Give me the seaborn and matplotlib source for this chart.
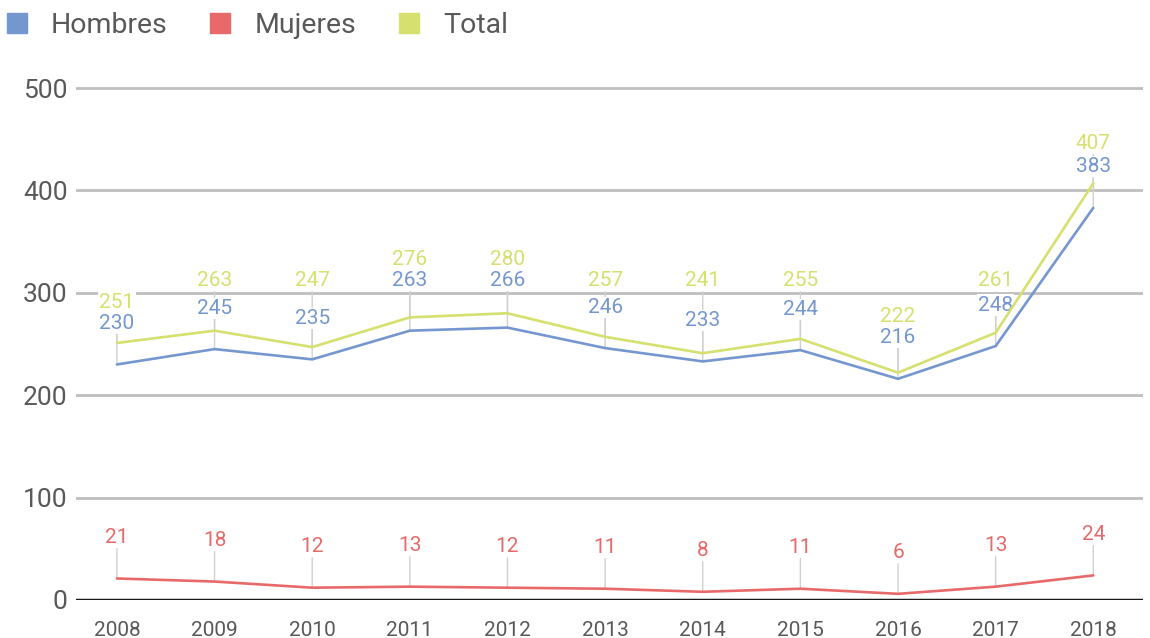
import matplotlib
matplotlib.use("Agg")
import matplotlib.pyplot as plt
import seaborn as sns
import pandas as pd
from matplotlib.lines import Line2D

years = ["2008", "2009", "2010", "2011", "2012", "2013", "2014", "2015", "2016", "2017", "2018"]
hombres = [230, 245, 235, 263, 266, 246, 233, 244, 216, 248, 383]
mujeres = [21, 18, 12, 13, 12, 11, 8, 11, 6, 13, 24]
total = [251, 263, 247, 276, 280, 257, 241, 255, 222, 261, 407]
series_names = ["Hombres", "Mujeres", "Total"]
colors = {"Hombres": "#7597CF", "Mujeres": "#E8696A", "Total": "#D5E06E"}
yticks = [0, 100, 200, 300, 400, 500]

sns.set_theme(style="white")
plt.rcParams['font.family'] = ['Roboto', 'DejaVu Sans']
text_color = "#595959"

rows = []
for name, vals in zip(series_names, [hombres, mujeres, total]):
    for i, (y, v) in enumerate(zip(years, vals)):
        rows.append({"x": i, "year": y, "value": v, "serie": name})
df = pd.DataFrame(rows)

W, H, DPI = 11.5, 6.38, 100
fig = plt.figure(figsize=(W, H), dpi=DPI)
ax_rect = [0.066, 0.0596, 0.928, 0.8185]
ax = fig.add_axes(ax_rect)
YMAX = 510
scale = ax_rect[3] * H * DPI / YMAX  # pixels per data unit
PT = 72.0 / DPI  # points per pixel

# gridlines
for g in yticks[1:]:
    ax.axhline(g, color="#BFBFBF", lw=2, zorder=0)

# label placement (pixel offsets above each point), avoiding gridlines and overlaps
HALF = 9


def avoid_grid(v, off):
    ly = v * scale + off
    for g in yticks[1:]:
        gp = g * scale
        if ly - HALF < gp < ly + HALF:
            ly = gp + 12
    return ly - v * scale


off_h = [avoid_grid(v, 41) for v in hombres]
off_m = [avoid_grid(v, 41) for v in mujeres]
off_t = []
for v, vh, oh in zip(total, hombres, off_h):
    lh = vh * scale + oh
    lt = v * scale + 40
    if lt < lh + 21:
        lt = lh + 21
    off_t.append(avoid_grid(v, lt - v * scale))

offsets = {"Hombres": off_h, "Mujeres": off_m, "Total": off_t}
data = {"Hombres": hombres, "Mujeres": mujeres, "Total": total}

# leader lines
for name in series_names:
    for i, (v, off) in enumerate(zip(data[name], offsets[name])):
        ax.annotate("", xy=(i, v), xytext=(0, (off - 11) * PT), textcoords="offset points",
                    arrowprops=dict(arrowstyle="-", color="#D0D0D0", lw=1, shrinkA=0, shrinkB=0),
                    zorder=1)

sns.lineplot(data=df, x="x", y="value", hue="serie", hue_order=series_names,
             palette=colors, lw=1.9, ax=ax, legend=False, zorder=3)

for name in series_names:
    for i, (v, off) in enumerate(zip(data[name], offsets[name])):
        ax.annotate(str(v), xy=(i, v), xytext=(0, off * PT), textcoords="offset points",
                    ha="center", va="center", fontsize=15, color=colors[name], zorder=2,
                    bbox=dict(boxstyle="square,pad=0.05", fc="white", ec="none"))

ax.axhline(0, color="#1a1a1a", lw=2.5, zorder=5)

ax.set_xlim(-0.42, 10.51)
ax.set_ylim(0, YMAX)
ax.set_yticks(yticks)
ax.set_xticks(range(len(years)))
ax.set_xticklabels(years)
ax.tick_params(axis="y", labelsize=19, colors=text_color, length=0, pad=6)
ax.tick_params(axis="x", labelsize=15, colors=text_color, length=0, pad=15)
for s in ax.spines.values():
    s.set_visible(False)
ax.set_xlabel("")
ax.set_ylabel("")

handles = [Line2D([0], [0], marker="s", color="none", markerfacecolor=colors[n],
                  markeredgecolor=colors[n], markersize=14, label=n) for n in series_names]
leg = fig.legend(handles=handles, loc="upper left", bbox_to_anchor=(-0.02, 1.021), ncol=3,
                 frameon=False, fontsize=20.5, handletextpad=0.7, columnspacing=1.35,
                 handlelength=1.0)
for t in leg.get_texts():
    t.set_color(text_color)

fig.savefig("out.png", dpi=DPI)
